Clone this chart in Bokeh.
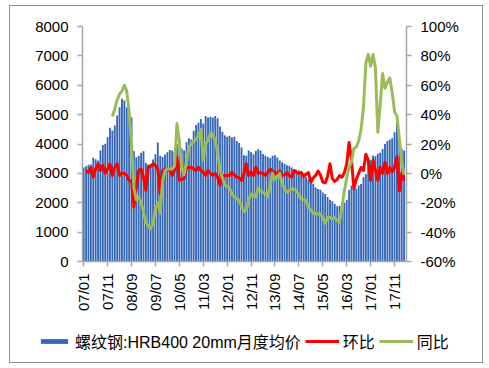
from math import pi
from bokeh.plotting import figure
from bokeh.layouts import column
from bokeh.models import (Range1d, LinearAxis, FixedTicker, PrintfTickFormatter,
                          Legend, LegendItem, ColumnDataSource)
from bokeh.embed import file_html
from bokeh.resources import INLINE

# ---------------- data ----------------
MONTHS = [f"{y:02d}/{m:02d}" for y in range(7, 19) for m in range(1, 13)][:135]

TICK_LABELS = ["07/01", "07/11", "08/09", "09/07", "10/05", "11/03", "12/01",
               "12/11", "13/09", "14/07", "15/05", "16/03", "17/01", "17/11"]

SERIES_NAMES = ["螺纹钢:HRB400 20mm月度均价", "环比", "同比"]

PRICE_2007 = [3200, 3240, 3290, 3300, 3530, 3480, 3440, 3780, 3970, 4010, 4230, 4550]
PRICE_2008 = [4460, 4630, 4970, 5250, 5540, 5480, 5250, 5000, 4900, 3750, 3550, 3600]
PRICE_2009 = [3700, 3750, 3350, 3300, 3320, 3470, 3650, 4050, 3600, 3560, 3640, 3720]
PRICE_2010 = [3800, 3780, 3720, 4000, 3900, 3850, 3780, 4060, 4200, 4150, 4450, 4650]
PRICE_2011 = [4720, 4850, 4700, 4950, 4900, 4930, 4900, 4950, 4880, 4600, 4420, 4300]
PRICE_2012 = [4250, 4280, 4220, 4250, 4100, 4030, 3880, 3620, 3600, 3780, 3720, 3650]
PRICE_2013 = [3760, 3820, 3780, 3660, 3600, 3560, 3520, 3600, 3620, 3540, 3440, 3380]
PRICE_2014 = [3330, 3280, 3250, 3200, 3150, 3120, 3100, 3080, 2960, 2880, 2800, 2740]
PRICE_2015 = [2650, 2520, 2470, 2440, 2350, 2300, 2200, 2100, 2050, 1960, 1880, 1900]
PRICE_2016 = [1950, 2000, 2100, 2430, 2590, 2530, 2480, 2590, 2640, 2870, 2980, 3440]
PRICE_2017 = [3450, 3610, 3580, 3670, 3700, 3830, 4000, 4100, 4150, 4200, 4400, 4720]
PRICE_2018 = [4120, 3830, 3780]
PRICE = (PRICE_2007 + PRICE_2008 + PRICE_2009 + PRICE_2010 + PRICE_2011 + PRICE_2012 +
         PRICE_2013 + PRICE_2014 + PRICE_2015 + PRICE_2016 + PRICE_2017 + PRICE_2018)

# 环比 (%), from 07/02
MOM_START = "07/02"
MOM = [2, 0.5, 4, -2.6, 3, 6.5, 2, 5.4, 0, 3, 6.5,
       -1.4, 4.2, 6.5, -1.4, 0, 0, -1.4, -4.8, -5, -23, -9.4, 2,
       3, -2.6, -11.6, 4.2, 5, 6.5, 5.4, 3, -13.9, 2, 3, 2.5,
       2, -1.4, 2, 11, -4.8, -4, -3.7, 4.2, 4, 4.2, 3, 2,
       4.2, 2, 0.8, -1.4, 2, 0, -1.4, 0, -2.6, -8.2, -1.4, -1.4,
       -1.4, -1.4, 0.8, -1, -2.6, -3, -4.8, 0, 6.5, -1.4, 1, -1.4,
       4.2, 0, 0.5, 0, -1.4, 0.5, 3, 1.5, 0.5, -0.5, 1.5, -1.4,
       -1, 0.5, -1.5, -2.6, 2, 0.5, 0, 0.5, -2, -0.5, 0.5, -6,
       -3, -1.4, 1.5, -1, -6, -6.5, -2, 6.5, -3.7, -5.5, -4, -1.4,
       -2.6, 0.5, 6.5, 21, 9, -10.5, -4, 0, 4, 2, 13, 9,
       -4.8, 9, 2, -4.8, 4.2, 0, 7.6, 0, 4, 1, 4, 11.5,
       -12, 0, -5]

# 同比 (%), from 08/01
YOY_START = "08/01"
YOY = [38.7, 44, 50, 54, 56, 60, 56, 42, 20, -10, -18, -16,
       -20, -26, -33, -36, -37.7, -34, -24, -20, -27, -5, 2, 3,
       3, 3, 5, 34, 22, 4, -1, 8, 18, 20, 22, 23,
       26, 30, 9, 20, 23, 27, 27, 22, 14, 3, -3, -8,
       -9, -10, -14, -16, -17, -18.5, -22, -26, -25, -18, -14, -15,
       -16, -10, -12, -13, -14, -16, -8, 0, -4, -2, 0, -7,
       -10.5, -12.8, -12, -10.5, -11, -12, -15, -17.3, -18, -18.5, -23, -25,
       -27, -27.5, -27.5, -28, -30, -34, -30, -30, -31, -30, -32, -33.5,
       -23, -12, -3, 4, 8, 17, 18, 22, 30, 45, 75, 81,
       73, 81, 72, 28, 47, 68, 58, 62, 65, 55, 42, 39,
       24, 8, -1]

# ---------------- styles ----------------
FONT = "Liberation Sans, Noto Sans CJK SC"
BAR_COLOR = "#3567B8"
RED = "#FF0000"
GREEN = "#9BBB59"
AX_COLOR = "#A6A6A6"

# ---------------- main chart ----------------
p = figure(width=474, height=315, output_backend="svg", toolbar_location=None,
           x_range=Range1d(-0.5, 135.0), y_range=Range1d(0, 8000),
           min_border_left=73, min_border_right=77, min_border_top=21,
           min_border_bottom=59)
p.frame_align = False
p.extra_y_ranges = {"pct": Range1d(-60, 100)}
p.xgrid.visible = False
p.ygrid.visible = False
p.outline_line_color = None
p.background_fill_color = "white"
p.border_fill_color = None

bar_src = ColumnDataSource(dict(x=list(range(len(PRICE))), top=PRICE))
p.vbar(x="x", top="top", bottom=0, width=0.78, source=bar_src,
       fill_color=BAR_COLOR, line_color=None)

m0 = MONTHS.index(MOM_START)
mom_src = ColumnDataSource(dict(x=list(range(m0, m0 + len(MOM))), y=MOM))
p.line(x="x", y="y", source=mom_src, y_range_name="pct",
       line_color=RED, line_width=3, line_join="round")

y0 = MONTHS.index(YOY_START)
yoy_src = ColumnDataSource(dict(x=list(range(y0, y0 + len(YOY))), y=YOY))
p.line(x="x", y="y", source=yoy_src, y_range_name="pct",
       line_color=GREEN, line_width=3, line_join="round")


def style_axis(ax):
    ax.axis_line_color = AX_COLOR
    ax.axis_line_width = 1.5
    ax.major_tick_line_color = AX_COLOR
    ax.major_tick_line_width = 1.5
    ax.major_tick_in = 0
    ax.major_tick_out = 5
    ax.minor_tick_line_color = None
    ax.major_label_text_font = FONT
    ax.major_label_text_font_size = "15px"
    ax.major_label_text_color = "#000000"


xa = p.xaxis[0]
tick_idx = [MONTHS.index(t) for t in TICK_LABELS]
xa.ticker = FixedTicker(ticks=tick_idx)
xa.major_label_overrides = {i: t for i, t in zip(tick_idx, TICK_LABELS)}
xa.major_label_orientation = pi / 2
style_axis(xa)
xa.major_label_standoff = 7

ya = p.yaxis[0]
ya.ticker = FixedTicker(ticks=list(range(0, 8001, 1000)))
style_axis(ya)
ya.major_label_standoff = 9

ra = LinearAxis(y_range_name="pct",
                ticker=FixedTicker(ticks=list(range(-60, 101, 20))),
                formatter=PrintfTickFormatter(format="%d%%"))
style_axis(ra)
ra.major_label_standoff = 9
p.add_layout(ra, "right")

# ---------------- legend strip ----------------
# The strip's ranges sit far away from the data, so its renderers only
# serve as legend swatches.
lg = figure(width=474, height=43, output_backend="svg", toolbar_location=None,
            x_range=Range1d(-1e6, -1e6 + 1), y_range=Range1d(-1e6, -1e6 + 1),
            x_axis_location=None, y_axis_location=None, min_border=0)
lg.frame_align = False
lg.xgrid.visible = False
lg.ygrid.visible = False
lg.outline_line_color = None
lg.background_fill_color = None
lg.border_fill_color = None
r_bar = lg.vbar(x="x", top="top", bottom=0, width=0.78, source=bar_src,
                fill_color=BAR_COLOR, line_color=None)
r_red = lg.line(x="x", y="y", source=mom_src, line_color=RED, line_width=3)
r_green = lg.line(x="x", y="y", source=yoy_src, line_color=GREEN, line_width=3)

legend = Legend(items=[LegendItem(label=SERIES_NAMES[0], renderers=[r_bar]),
                       LegendItem(label=SERIES_NAMES[1], renderers=[r_red]),
                       LegendItem(label=SERIES_NAMES[2], renderers=[r_green])],
                orientation="horizontal", location=(28, 10),
                glyph_width=34, glyph_height=6, label_standoff=4, spacing=4,
                padding=0, margin=0, border_line_color=None,
                background_fill_alpha=0, label_height=16,
                label_text_font=FONT, label_text_font_size="16px",
                label_text_color="#000000")
lg.add_layout(legend)

layout = column(p, lg, spacing=0,
                styles={"margin-left": "9px", "margin-top": "5px",
                        "outline": "1.5px solid #8C8C8C",
                        "outline-offset": "-1.5px"})

open("out.html", "w").write(file_html(layout, INLINE))
